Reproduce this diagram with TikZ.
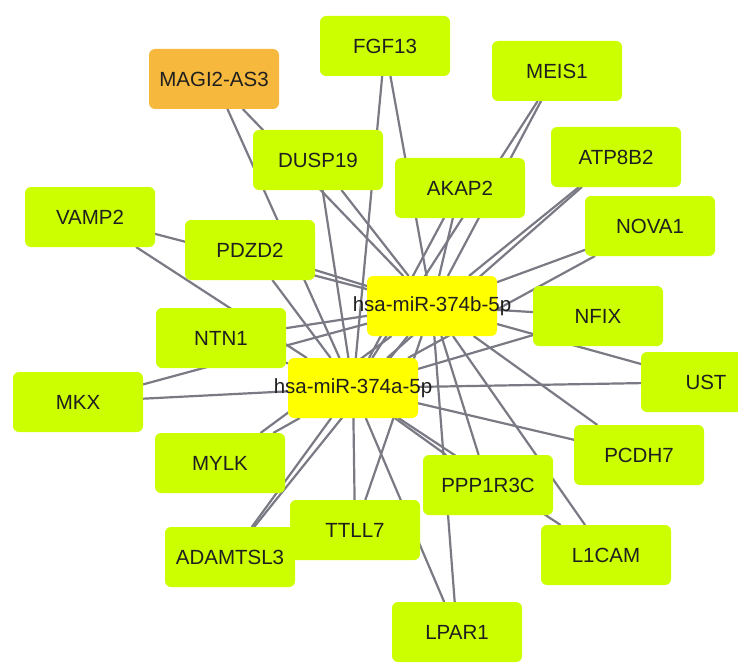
\documentclass[tikz,border=0pt]{standalone}
\usepackage{fontspec}
\setmainfont{Liberation Sans}

\pgfdeclarelayer{bg}    % Hintergrund fuer die Kanten
\pgfsetlayers{bg,main}

\definecolor{lime}{RGB}{204,255,0}
\definecolor{mirY}{RGB}{255,255,0}
\definecolor{lncO}{RGB}{246,185,62}
\definecolor{edgeG}{RGB}{122,122,132}

\tikzset{
	gene/.style={rectangle, rounded corners=6pt, fill=lime, minimum width=130pt, minimum height=60pt, inner sep=0pt, outer sep=0pt},
	lnc/.style={gene, fill=lncO},
	mir/.style={gene, fill=mirY},
	link/.style={draw=edgeG, line width=2.2pt},
}

\begin{document}
\begin{tikzpicture}[x=1pt, y=-1pt, font=\fontsize{20.5}{24}\selectfont, text=black!88]
%
\useasboundingbox (0,0) rectangle (738,663);
\clip (0,0) rectangle (738,663);

%Knoten

\node [lnc] (magi) at (214,79) {MAGI2-AS3};

\foreach \n/\x/\y/\t in {
	fgf/385/46/FGF13, meis/557/71/MEIS1, dusp/318/160/DUSP19, akap/460/188/AKAP2,
	atp/616/157/ATP8B2, vamp/90/217/VAMP2, pdzd/250/250/PDZD2, nova/650/226/NOVA1,
	nfix/598/316/NFIX, ntn/221/338/NTN1, mkx/78/402/MKX, ust/706/382/UST,
	mylk/220/463/MYLK, pcdh/639/455/PCDH7, ppp/488/485/PPP1R3C, ttll/355/530/TTLL7,
	adam/230/557/ADAMTSL3, lcam/606/555/L1CAM, lpar/457/632/LPAR1}{
	\node [gene] (\n) at (\x,\y) {\t};
}

\node [mir, label={center:hsa-miR-374b-5p}] (mirb) at (432,306) {};
\node [mir, label={center:hsa-miR-374a-5p}] (mira) at (353,388) {};

%Kanten
\begin{pgfonlayer}{bg}
	\foreach \n in {magi,fgf,meis,dusp,akap,atp,vamp,pdzd,nova,nfix,ntn,mkx,ust,mylk,pcdh,ppp,ttll,adam,lcam,lpar}{
		\draw [link] (\n) -- (mira);
		\draw [link] (\n) -- (mirb);
	}
\end{pgfonlayer}

\end{tikzpicture}
\end{document}
